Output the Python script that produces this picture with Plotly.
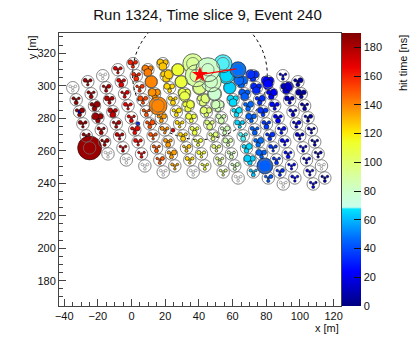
import plotly.graph_objects as go

# --- detector tanks (centres in m), one row per column of the array ---
tank_x = [
    -34.9, -32.9, -30.9, -28.9, -26.9, -24.9,
    -26.0, -24.0, -22.0, -20.0, -18.0, -16.0, -14.0,
    -17.1, -15.1, -13.1, -11.1, -9.1, -7.1, -5.1, -3.1,
    -8.1, -6.1, -4.1, -2.1, -0.1, 1.9, 3.9, 5.9, 7.9,
    0.8, 2.8, 4.8, 6.8, 8.8, 10.8, 12.8, 14.8, 16.8, 18.8,
    9.7, 11.7, 13.7, 15.7, 17.7, 19.7, 21.7, 23.7, 25.7,
    18.6, 20.6, 22.6, 24.6, 26.6, 28.6, 30.6, 32.6, 34.6, 36.6,
    27.5, 29.5, 31.5, 33.5, 35.5, 37.5, 39.5, 41.5, 43.5,
    36.4, 38.4, 40.4, 42.4, 44.4, 46.4, 48.4, 50.4, 52.4, 54.4,
    45.3, 47.3, 49.3, 51.3, 53.3, 55.3, 57.3, 59.3, 61.3, 63.3,
    54.3, 56.3, 58.3, 60.3, 62.3, 64.3, 66.3, 68.3, 70.3, 72.3,
    63.2, 65.2, 67.2, 69.2, 71.2, 73.2, 75.2, 77.2, 79.2, 81.2,
    72.1, 74.1, 76.1, 78.1, 80.1, 82.1, 84.1, 86.1, 88.1, 90.1,
    81.0, 83.0, 85.0, 87.0, 89.0, 91.0, 93.0, 95.0, 97.0,
    89.9, 91.9, 93.9, 95.9, 97.9, 99.9, 101.9, 103.9, 105.9, 107.9,
    98.8, 100.8, 102.8, 104.8, 106.8, 108.8, 110.8, 112.8, 114.8,
]
tank_y = [
    298.7, 291.3, 283.9, 276.5, 269.1, 261.7,
    302.4, 295.0, 287.6, 280.2, 272.8, 265.4, 258.0,
    306.1, 298.7, 291.3, 283.9, 276.5, 269.1, 261.7, 254.3,
    309.8, 302.4, 295.0, 287.6, 280.2, 272.8, 265.4, 258.0, 250.6,
    313.5, 306.1, 298.7, 291.3, 283.9, 276.5, 269.1, 261.7, 254.3, 246.9,
    309.8, 302.4, 295.0, 287.6, 280.2, 272.8, 265.4, 258.0, 250.6,
    313.5, 306.1, 298.7, 291.3, 283.9, 276.5, 269.1, 261.7, 254.3, 246.9,
    309.8, 302.4, 295.0, 287.6, 280.2, 272.8, 265.4, 258.0, 250.6,
    313.5, 306.1, 298.7, 291.3, 283.9, 276.5, 269.1, 261.7, 254.3, 246.9,
    309.8, 302.4, 295.0, 287.6, 280.2, 272.8, 265.4, 258.0, 250.6, 243.2,
    313.5, 306.1, 298.7, 291.3, 283.9, 276.5, 269.1, 261.7, 254.3, 246.9,
    309.8, 302.4, 295.0, 287.6, 280.2, 272.8, 265.4, 258.0, 250.6, 243.2,
    306.1, 298.7, 291.3, 283.9, 276.5, 269.1, 261.7, 254.3, 246.9, 239.5,
    302.4, 295.0, 287.6, 280.2, 272.8, 265.4, 258.0, 250.6, 243.2,
    306.1, 298.7, 291.3, 283.9, 276.5, 269.1, 261.7, 254.3, 246.9, 239.5,
    302.4, 295.0, 287.6, 280.2, 272.8, 265.4, 258.0, 250.6, 243.2,
]
# hit time per tank [ns] (None = no hit)
tank_t = [
    None, 186, 184, 185, 183, 184,
    183, 182, 184, 183, 181, 182, None,
    None, 178, 177, 176, 178, 175, 176, None,
    170, 168, 169, 166, 167, 165, 164, 166, None,
    160, 158, 156, 152, 150, 151, 150, 148, 149, None,
    142, 140, 138, 140, 136, 138, 136, 135, 134,
    128, 126, 124, 125, 122, 124, 126, 128, 125, None,
    112, 110, 108, 110, 112, 110, 113, 115, 112,
    92, 90, 95, 98, 100, 98, 100, 102, 96, 98,
    80, 82, 78, 84, 86, 85, 88, 86, 84, None,
    68, 66, 64, 66, 67, 65, 68, 66, 64, 62,
    48, 46, 44, 46, 45, 44, 47, 45, 44, 42,
    34, 32, 33, 35, 36, 34, 36, 35, 33, None,
    24, 22, 25, 23, 26, 24, 26, 25, 24,
    16, 14, 15, 16, 18, 15, 17, 16, 18, 17,
    8, 7, 9, 8, 10, 9, 8, None, 10,
]
# largest hit marker per tank [px] (charge)
tank_q = [
    0, 4, 5, 4, 4, 24,
    4, 4, 6, 7, 4, 4, 0,
    0, 4, 5, 6, 4, 4, 3, 0,
    4, 5, 4, 4, 4, 5, 4, 3, 0,
    5, 5, 4, 5, 4, 5, 4, 4, 4, 0,
    8, 12, 8, 18, 5, 4, 5, 5, 3,
    8, 9, 6, 5, 5, 4, 5, 4, 4, 0,
    12, 12, 10, 8, 6, 5, 4, 4, 3,
    20, 22, 14, 9, 7, 6, 5, 4, 4, 3,
    24, 20, 14, 9, 6, 5, 5, 4, 4, 0,
    18, 16, 12, 8, 6, 5, 5, 6, 7, 4,
    16, 10, 8, 6, 6, 5, 6, 6, 16, 4,
    9, 8, 6, 6, 5, 5, 4, 4, 4, 0,
    10, 7, 5, 5, 4, 4, 4, 3, 3,
    3, 9, 5, 4, 4, 4, 3, 3, 3, 3,
    5, 6, 4, 4, 3, 3, 3, 0, 3,
]

# isolated noise hits
noise_x = [-30.7, 3.7, 34.7, 24.6]
noise_y = [284.0, 276.6, 301.8, 272.6]
noise_t = [15, 30, 62, 170]

# reconstructed core and direction
core_x, core_y = 40.6, 306.8
ring_r = 40.0
dir_x = [40.6, 62.4]
dir_y = [306.8, 310.3]

# PMT layout inside a tank (m): centre + 3 outer
pmt_dx = [0.0, -1.56, 1.56, 0.0]
pmt_dy = [0.0, 0.9, 0.9, -1.8]

colorscale = [
    [0.0, "rgb(0,0,128)"],
    [0.125, "rgb(0,0,255)"],
    [0.25, "rgb(0,110,255)"],
    [0.355, "rgb(0,228,255)"],
    [0.362, "rgb(200,255,235)"],
    [0.42, "rgb(205,255,205)"],
    [0.47, "rgb(215,255,165)"],
    [0.53, "rgb(225,255,110)"],
    [0.60, "rgb(240,255,40)"],
    [0.64, "rgb(255,230,0)"],
    [0.72, "rgb(255,150,0)"],
    [0.80, "rgb(255,70,0)"],
    [0.875, "rgb(235,0,0)"],
    [1.0, "rgb(128,0,0)"],
]

# expand tank hits onto PMTs
hits = []
for i, (x, y, t, q) in enumerate(zip(tank_x, tank_y, tank_t, tank_q)):
    if t is None:
        continue
    if q >= 12:
        shares = [1.0, 0.5, 0.45, 0.4]
    else:
        outer = [1.0, 0.8, 0.65]
        k = i % 3
        shares = [0.55] + outer[k:] + outer[:k]
    for dx, dy, s in zip(pmt_dx, pmt_dy, shares):
        hits.append((x + dx, y + dy, t, max(2.5, q * s)))
for x, y, t in zip(noise_x, noise_y, noise_t):
    hits.append((x, y, t, 4))
hits.sort(key=lambda h: h[3])

# PMT glyphs only where the tank saw nothing
pmt_x = [x + dx for x, t in zip(tank_x, tank_t) if t is None for dx in pmt_dx]
pmt_y = [y + dy for y, t in zip(tank_y, tank_t) if t is None for dy in pmt_dy]

fig = go.Figure()

fig.add_trace(go.Scatter(
    x=[h[0] for h in hits], y=[h[1] for h in hits], mode="markers",
    marker=dict(
        size=[h[3] for h in hits], color=[h[2] for h in hits],
        colorscale=colorscale, cmin=0, cmax=190, opacity=1,
        line=dict(color="#111", width=0.6),
        showscale=True,
        colorbar=dict(
            x=1.004, xanchor="left", y=0.5, yanchor="middle", len=1,
            thickness=19, xpad=0, ypad=0, outlinewidth=0,
            ticks="inside", ticklen=7, tickcolor="#111",
            tickvals=list(range(0, 181, 20)),
            tickfont=dict(size=11),
        ),
    ),
    hoverinfo="skip",
))

fig.add_trace(go.Scatter(
    x=tank_x, y=tank_y, mode="markers",
    marker=dict(symbol="circle-open", size=12.5, color="#6a6a6a", line=dict(width=0.8)),
    hoverinfo="skip",
))
fig.add_trace(go.Scatter(
    x=pmt_x, y=pmt_y, mode="markers",
    marker=dict(symbol="circle-open", size=2.6, color="#777", line=dict(width=0.6)),
    hoverinfo="skip",
))

fig.add_trace(go.Scatter(x=dir_x, y=dir_y, mode="lines",
                         line=dict(color="red", width=1.2), hoverinfo="skip"))
fig.add_trace(go.Scatter(x=[core_x], y=[core_y], mode="markers",
                         marker=dict(symbol="star", size=12, color="red"),
                         hoverinfo="skip"))

fig.add_shape(type="circle", xref="x", yref="y", layer="below",
              x0=core_x - ring_r, x1=core_x + ring_r,
              y0=core_y - ring_r, y1=core_y + ring_r,
              line=dict(color="black", width=1, dash="dot"))

axis_style = dict(
    showline=True, linecolor="#444", linewidth=1, mirror=True,
    ticks="inside", ticklen=7, tickcolor="#444", dtick=20, tick0=0,
    minor=dict(ticks="inside", ticklen=4, dtick=5, tickcolor="#444"),
    showgrid=False, zeroline=False, tickfont=dict(size=11),
    automargin=False,
)
fig.update_xaxes(range=[-43.1, 124.4], **axis_style)
fig.update_yaxes(range=[164.4, 332.4], **axis_style)

fig.add_annotation(text="y [m]", xref="paper", yref="paper", x=-0.095, y=1,
                   xanchor="center", yanchor="top", textangle=-90,
                   showarrow=False, font=dict(size=11))
fig.add_annotation(text="x [m]", xref="paper", yref="paper", x=1, y=-0.08,
                   xanchor="right", yanchor="middle",
                   showarrow=False, font=dict(size=11))
fig.add_annotation(text="hit time [ns]", xref="paper", yref="paper", x=1.22, y=1,
                   xanchor="center", yanchor="top", textangle=-90,
                   showarrow=False, font=dict(size=11))

fig.update_layout(
    width=415, height=341,
    margin=dict(l=59, r=74, t=33, b=35, autoexpand=False),
    paper_bgcolor="white", plot_bgcolor="white",
    font=dict(family="Liberation Sans, Arial, sans-serif", size=11, color="#111"),
    title=dict(text="Run 1324, Time slice 9, Event 240", x=0.5, xanchor="center",
               y=1 - 15 / 341, yanchor="middle", font=dict(size=15)),
    showlegend=False,
)

# the page body has a default 8px margin; drop it so the figure fills the window
fig.write_html("out.html", config={"displayModeBar": False},
               post_script="document.body.style.margin='0';")
